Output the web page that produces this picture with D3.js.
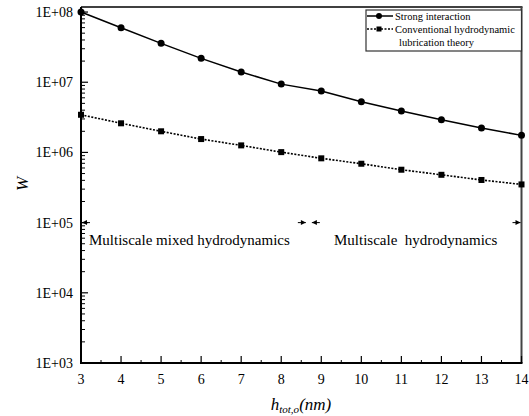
<!DOCTYPE html>
<html><head><meta charset="utf-8">
<script src="https://cdn.jsdelivr.net/npm/d3@7"></script>
<style>body{margin:0;background:#fff}svg{display:block}svg text{font-family:"Liberation Serif","Times New Roman","DejaVu Serif",serif}</style>
</head><body>
<svg id="c" width="529" height="416"></svg>
<script>
const hValues = [3,4,5,6,7,8,9,10,11,12,13,14];
const strongW = [1.0e8,5.97e7,3.58e7,2.19e7,1.40e7,9.4e6,7.5e6,5.27e6,3.89e6,2.92e6,2.23e6,1.75e6];
const conventionalW = [3.44e6,2.6e6,2.0e6,1.55e6,1.26e6,1.01e6,8.24e5,6.9e5,5.67e5,4.8e5,4.05e5,3.5e5];
const xTicks = [3,4,5,6,7,8,9,10,11,12,13,14];
const yTickLabels = ["1E+03","1E+04","1E+05","1E+06","1E+07","1E+08"];
const yTickValues = [1e3,1e4,1e5,1e6,1e7,1e8];
const seriesNames = ["Strong interaction","Conventional hydrodynamic","lubrication theory"];
const regionBounds = [3, 8.69, 14];
const regionLabels = ["Multiscale mixed hydrodynamics","Multiscale  hydrodynamics"];
const regionLevel = 1e5;

const svg = d3.select("#c");
const L=81, R=521.5, T=7, B=363;
const x = d3.scaleLinear().domain([3,14]).range([L,R]);
const y = d3.scaleLog().domain([1e3,1.18e8]).range([B,T]);

// frame
svg.append("line").attr("x1",L).attr("x2",R+1).attr("y1",T).attr("y2",T).attr("stroke","#000").attr("stroke-width",1.5);
svg.append("line").attr("x1",R).attr("x2",R).attr("y1",T).attr("y2",B).attr("stroke","#444").attr("stroke-width",2);

// y minor ticks
const minor = [];
for (let d=3; d<8; d++) for (let k=2;k<=9;k++) minor.push(k*Math.pow(10,d));
svg.append("g").selectAll("line").data(minor).join("line")
  .attr("x1",L).attr("x2",L+4).attr("y1",d=>y(d)).attr("y2",d=>y(d)).attr("stroke","#000").attr("stroke-width",1);
svg.append("g").selectAll("line").data(yTickValues).join("line")
  .attr("x1",L).attr("x2",L+7).attr("y1",d=>y(d)).attr("y2",d=>y(d)).attr("stroke","#000").attr("stroke-width",1.2);
svg.append("g").selectAll("text").data(yTickValues).join("text")
  .attr("x",73).attr("y",d=>y(d)).attr("dy","0.35em").attr("text-anchor","end")
  .attr("font-size",14).text((d,i)=>yTickLabels[i]);

// x ticks
const xMinor = xTicks.slice(0,-1).map(v=>v+0.5);
svg.append("g").selectAll("line").data(xMinor).join("line")
  .attr("x1",d=>x(d)).attr("x2",d=>x(d)).attr("y1",B).attr("y2",B-3).attr("stroke","#000").attr("stroke-width",1);
svg.append("g").selectAll("line").data(xTicks).join("line")
  .attr("x1",d=>x(d)).attr("x2",d=>x(d)).attr("y1",B).attr("y2",B-7).attr("stroke","#000").attr("stroke-width",1.2);
svg.append("g").selectAll("text").data(xTicks).join("text")
  .attr("x",d=>x(d)).attr("y",384).attr("text-anchor","middle")
  .attr("font-size",14).text(d=>d);

// axes lines
svg.append("line").attr("x1",L).attr("x2",L).attr("y1",T).attr("y2",B+1).attr("stroke","#000").attr("stroke-width",2);
svg.append("line").attr("x1",L-1).attr("x2",R+1).attr("y1",B).attr("y2",B).attr("stroke","#000").attr("stroke-width",2);

// axis titles
const xt = svg.append("text").attr("x",301).attr("y",410).attr("text-anchor","middle")
  .attr("font-style","italic").attr("font-size",17);
xt.append("tspan").text("h");
xt.append("tspan").attr("font-size",11).attr("dy",3).text("tot,o");
xt.append("tspan").attr("dy",-3).text("(nm)");
svg.append("text").attr("transform","translate(28,184) rotate(-90)").attr("text-anchor","middle")
  .attr("font-style","italic").attr("font-size",17).text("W");

// series
const line = d3.line().x((d,i)=>x(hValues[i])).y(d=>y(d));
svg.append("path").datum(strongW).attr("d",line).attr("fill","none").attr("stroke","#000").attr("stroke-width",1.5);
svg.append("path").datum(conventionalW).attr("d",line).attr("fill","none").attr("stroke","#000")
  .attr("stroke-width",1.6).attr("stroke-dasharray","2,1.5");
svg.append("g").selectAll("circle").data(strongW).join("circle")
  .attr("cx",(d,i)=>x(hValues[i])).attr("cy",d=>y(d)).attr("r",3.5).attr("fill","#000");
svg.append("g").selectAll("rect").data(conventionalW).join("rect")
  .attr("x",(d,i)=>x(hValues[i])-3).attr("y",d=>y(d)-3).attr("width",6).attr("height",6).attr("fill","#000");

// region arrows (heads only, as in reference)
const ay = y(regionLevel);
function head(xTip, dir){ // dir -1 points left, +1 points right
  svg.append("path").attr("d",`M${xTip},${ay} L${xTip-dir*5},${ay-2.5} L${xTip-dir*5},${ay+2.5} Z`).attr("fill","#000");
  svg.append("line").attr("x1",xTip).attr("x2",xTip-dir*8).attr("y1",ay).attr("y2",ay).attr("stroke","#000").attr("stroke-width",1);
}
head(x(regionBounds[0])+1,-1);
head(x(regionBounds[1])-3,1);
head(x(regionBounds[1])+3,-1);
head(x(regionBounds[2])-1,1);
svg.append("text").attr("x",89).attr("y",240).attr("dy","0.35em").attr("font-size",15)
  .style("white-space","pre").text(regionLabels[0]);
svg.append("text").attr("x",334).attr("y",240).attr("dy","0.35em").attr("font-size",15)
  .style("white-space","pre").text(regionLabels[1]);

// legend
const lg = svg.append("g");
lg.append("rect").attr("x",366).attr("y",10).attr("width",155.5).attr("height",41).attr("fill","#fff").attr("stroke","#333").attr("stroke-width",1.2);
lg.append("line").attr("x1",367).attr("x2",393).attr("y1",16).attr("y2",16).attr("stroke","#000").attr("stroke-width",1.5);
lg.append("circle").attr("cx",379).attr("cy",16).attr("r",3).attr("fill","#000");
lg.append("line").attr("x1",367).attr("x2",393).attr("y1",29).attr("y2",29).attr("stroke","#000").attr("stroke-width",1.4).attr("stroke-dasharray","2,1.5");
lg.append("rect").attr("x",376.5).attr("y",26.5).attr("width",5).attr("height",5).attr("fill","#000");
lg.append("text").attr("x",395).attr("y",16).attr("dy","0.35em").attr("font-size",10.5).text(seriesNames[0]);
lg.append("text").attr("x",395).attr("y",29).attr("dy","0.35em").attr("font-size",10.5).text(seriesNames[1]);
lg.append("text").attr("x",399).attr("y",42.5).attr("dy","0.35em").attr("font-size",10.5).text(seriesNames[2]);
</script>
</body></html>
